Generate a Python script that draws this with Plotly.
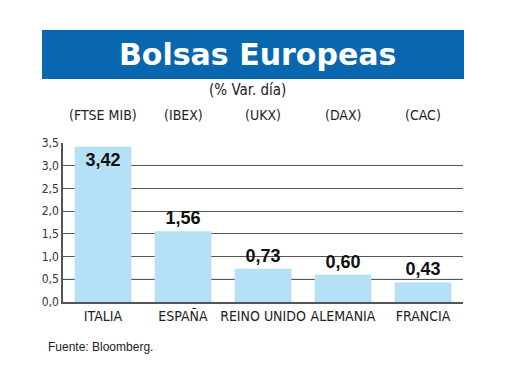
import plotly.graph_objects as go

paises = ["ITALIA", "ESPAÑA", "REINO UNIDO", "ALEMANIA", "FRANCIA"]
indices = ["(FTSE MIB)", "(IBEX)", "(UKX)", "(DAX)", "(CAC)"]
variacion = [3.42, 1.56, 0.73, 0.60, 0.43]
ytick_vals = [0, 0.5, 1.0, 1.5, 2.0, 2.5, 3.0, 3.5]

NARROW = "DejaVu Sans Condensed, Liberation Sans Narrow, Arial Narrow, sans-serif"

# page body has an 8px margin; work in screen coordinates and subtract it
O = 8
W, H = 520 - 2 * O, 390 - 2 * O
L, T = 63 - O, 143 - O
PW, PH = 400, 159
R, B = W - L - PW, H - T - PH

def px(x):
    return (x - O - L) / PW

def py(y):
    return (T + PH - (y - O)) / PH

positions = ["inside"] + ["outside"] * (len(variacion) - 1)

fig = go.Figure(go.Bar(
    x=paises, y=variacion,
    marker=dict(color="#b5e1f7", line=dict(width=0)),
    texttemplate="<b>%{y:.2f}</b>",
    textposition=positions,
    insidetextanchor="end",
    textfont=dict(family="Liberation Sans, Arial, sans-serif", size=18, color="#111"),
    constraintext="none",
    cliponaxis=False,
    width=0.71,
))

fig.update_layout(
    width=W, height=H,
    margin=dict(l=L, r=R, t=T, b=B),
    plot_bgcolor="white", paper_bgcolor="white",
    separators=",.",
    showlegend=False,
    xaxis=dict(
        showgrid=False, showline=True, linecolor="#555", linewidth=1.5,
        ticks="", tickangle=0, automargin=False,
        tickfont=dict(family=NARROW, size=14, color="#222"),
        range=[-0.5, 4.5],
    ),
    yaxis=dict(
        range=[0, 3.5], tickvals=ytick_vals,
        ticktext=[f"{v:.1f}".replace(".", ",") for v in ytick_vals],
        showgrid=True, gridcolor="#555", gridwidth=1.2,
        showline=True, linecolor="#555", linewidth=1.5,
        zeroline=False, ticks="", automargin=False,
        tickfont=dict(family=NARROW, size=12, color="#333"),
    ),
    shapes=[
        dict(type="line", xref="paper", yref="y", x0=0, x1=1, y0=0.5, y1=0.5,
             line=dict(color="#d4d4d4", width=1.5), layer="between"),
        dict(type="rect", xref="paper", yref="paper",
             x0=px(42), x1=px(464), y0=py(79), y1=py(30),
             fillcolor="#0867ae", line=dict(width=0), layer="below"),
    ],
)

annotations = [
    dict(text="<b>Bolsas Europeas</b>", xref="paper", yref="paper",
         x=px(257), y=py(55), showarrow=False,
         font=dict(family="DejaVu Sans, sans-serif", size=30, color="white"),
         xanchor="center", yanchor="middle"),
    dict(text="(% Var. día)", xref="paper", yref="paper",
         x=px(247), y=py(90), showarrow=False,
         font=dict(family=NARROW, size=15, color="#222"),
         xanchor="center", yanchor="middle"),
    dict(text="Fuente: Bloomberg.", xref="paper", yref="paper",
         x=px(46), y=py(347), showarrow=False,
         font=dict(family="Liberation Sans, Arial, sans-serif", size=12, color="#222"),
         xanchor="left", yanchor="middle"),
]
for p, idx in zip(paises, indices):
    annotations.append(dict(text=idx, xref="x", yref="paper", x=p, y=py(115),
                            showarrow=False, xanchor="center", yanchor="middle",
                            font=dict(family=NARROW, size=14, color="#222")))
fig.update_layout(annotations=annotations)

fig.write_html("out.html")
